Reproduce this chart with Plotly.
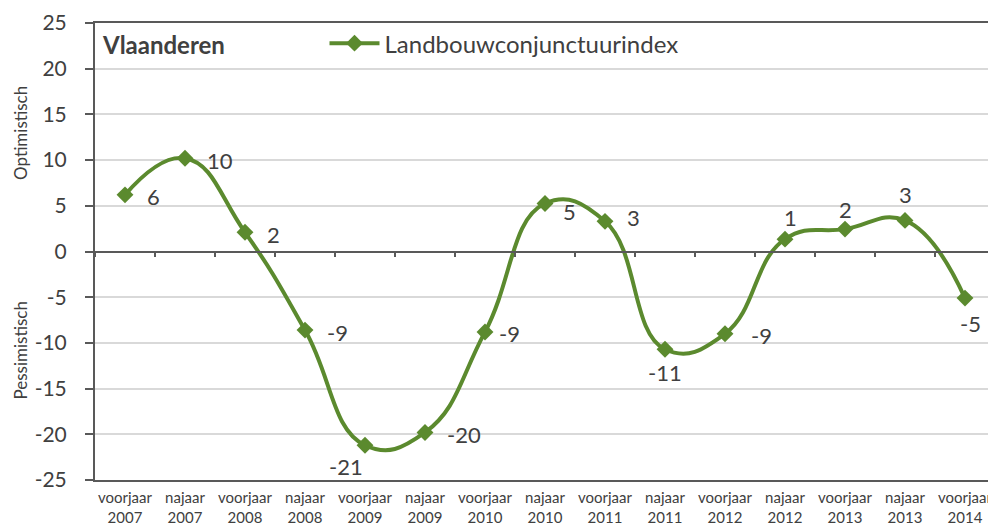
import plotly.graph_objects as go

categories = ["voorjaar<br>2007", "najaar<br>2007", "voorjaar<br>2008", "najaar<br>2008",
              "voorjaar<br>2009", "najaar<br>2009", "voorjaar<br>2010", "najaar<br>2010",
              "voorjaar<br>2011", "najaar<br>2011", "voorjaar<br>2012", "najaar<br>2012",
              "voorjaar<br>2013", "najaar<br>2013", "voorjaar<br>2014"]
values = [6.2, 10.2, 2.1, -8.6, -21.2, -19.8, -8.8, 5.25, 3.3, -10.7, -9.0, 1.35, 2.45, 3.4, -5.1]
series_name = "Landbouwconjunctuurindex"
region_title = "Vlaanderen"
y_ticks = [25, 20, 15, 10, 5, 0, -5, -10, -15, -20, -25]
y_ticktext = [str(t) for t in y_ticks]

GREEN = "#5B8A2E"
TXT = "#404040"
AX = "#595959"
FONT = "Lato, 'Open Sans', sans-serif"

# label placement per point: (xanchor, yanchor, xshift, yshift)
placement = [("left", "middle", 20, -2), ("left", "middle", 20, -2), ("left", "middle", 20, -2),
             ("left", "middle", 20, -2), ("right", "top", 0, -6), ("left", "middle", 20, -2),
             ("left", "middle", 12, -2), ("left", "middle", 16, -8), ("left", "middle", 20, 4),
             ("center", "top", 0, -8), ("left", "middle", 24, -2), ("center", "bottom", 5, 6),
             ("center", "bottom", 0, 4), ("center", "bottom", 0, 10), ("center", "top", 5, -10)]

fig = go.Figure()
fig.add_trace(go.Scatter(
    x=categories, y=values, mode="lines+markers", name=series_name,
    line=dict(color=GREEN, width=4, shape="spline", smoothing=1.3),
    marker=dict(symbol="diamond", size=13, color=GREEN),
    hoverinfo="skip"))
# zero-crossing axis helper
fig.add_trace(go.Scatter(x=[-0.5, 14.5], y=[0, 0], mode="lines", xaxis="x2",
                         line=dict(width=0, color="rgba(0,0,0,0)"), showlegend=False,
                         hoverinfo="skip"))

annotations = []
for cat, v, (xa, ya, xs, ys) in zip(categories, values, placement):
    annotations.append(dict(x=cat, y=v, xref="x", yref="y", text=str(round(v)),
                            showarrow=False, xanchor=xa, yanchor=ya, xshift=xs, yshift=ys,
                            font=dict(family=FONT, size=22, color=TXT)))
annotations.append(dict(x=0.005, y=0.952, xref="paper", yref="paper", text="<b>" + region_title + "</b>",
                        showarrow=False, xanchor="left", yanchor="middle",
                        font=dict(family=FONT, size=24, color=TXT)))
annotations.append(dict(x=-0.083, y=0.76, xref="paper", yref="paper", text="Optimistisch",
                        showarrow=False, textangle=-90, xanchor="center", yanchor="middle",
                        font=dict(family=FONT, size=17, color=TXT)))
annotations.append(dict(x=-0.083, y=0.284, xref="paper", yref="paper", text="Pessimistisch",
                        showarrow=False, textangle=-90, xanchor="center", yanchor="middle",
                        font=dict(family=FONT, size=17, color=TXT)))

fig.update_layout(
    width=988, height=519,
    margin=dict(l=87, r=1, t=12, b=46),
    paper_bgcolor="white", plot_bgcolor="white",
    font=dict(family=FONT, color=TXT),
    showlegend=True,
    legend=dict(x=0.255, y=0.955, xanchor="left", yanchor="middle", orientation="h",
                font=dict(family=FONT, size=24, color=TXT), itemwidth=50,
                bgcolor="rgba(0,0,0,0)"),
    xaxis=dict(type="category", range=[-0.5, 14.5], showgrid=False, zeroline=False,
               showline=True, linecolor=AX, linewidth=2, mirror=True, ticks="",
               tickfont=dict(family=FONT, size=15, color=TXT), ticklabelstandoff=3),
    xaxis2=dict(type="linear", range=[-0.5, 14.5], overlaying="x", anchor="free",
                position=0.5, showgrid=False, zeroline=False, showline=True,
                linecolor=AX, linewidth=2, ticks="outside", ticklen=4, tickwidth=1.5,
                tickcolor=AX, tickvals=[i + 0.5 for i in range(-1, 15)],
                showticklabels=False),
    yaxis=dict(range=[-25, 25.0001], tickvals=y_ticks, ticktext=y_ticktext,
               showgrid=True, gridcolor="#D9D9D9",
               gridwidth=1.5, zeroline=False, showline=True, linecolor=AX, linewidth=2,
               ticks="outside", ticklen=8, tickcolor=AX, tickwidth=1.5,
               tickfont=dict(family=FONT, size=21, color=TXT), ticklabelstandoff=14,
               ticklabeloverflow="allow"),
    annotations=annotations,
)

fig.write_html("out.html")
